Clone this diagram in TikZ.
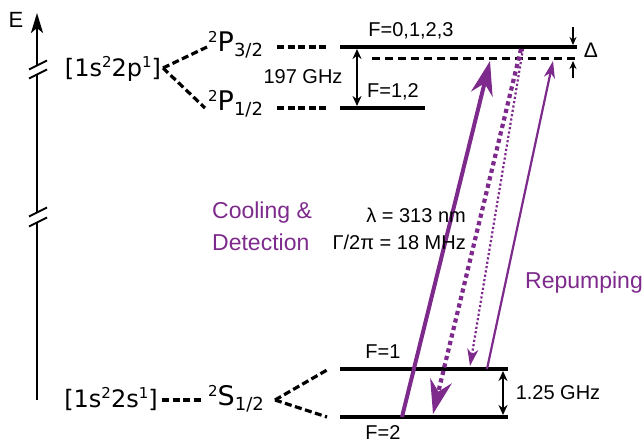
\documentclass[tikz,border=0pt]{standalone}
\usepackage{fontspec}
\setmainfont{Liberation Sans}
\newfontfamily\dvs{DejaVu Sans}
\usetikzlibrary{arrows.meta}
\definecolor{purp}{RGB}{125,42,140}
\newcommand{\fs}[1]{\fontsize{#1}{#1}\selectfont}
\newcommand{\termsym}[3]{{\dvs\fs{15}\raisebox{9pt}{#1}}{\dvs\fs{27}#2}{\dvs\fs{18}\raisebox{-5pt}{#3}}}
\newcommand{\confsym}[2]{{\dvs\fs{24}[1s\raisebox{9pt}{\fs{15}2}2#1\raisebox{9pt}{\fs{15}1}]}}
\begin{document}
\begin{tikzpicture}[x=1pt,y=-1pt,
  lvl/.style={line width=3.8pt},
  dlvl/.style={line width=3pt, dash pattern=on 8pt off 5pt},
  conn/.style={line width=3.2pt, dash pattern=on 7pt off 3.5pt},
  lab/.style={inner sep=0pt, font=\fs{20}},
  plab/.style={inner sep=0pt, font=\fs{23}, text=purp},
  gap/.style={line width=2.2pt, {Stealth[length=10pt,width=9pt]}-{Stealth[length=10pt,width=9pt]}},
  small/.style={line width=1.8pt, -{Stealth[length=8pt,width=7pt]}},
  bigtip/.style={-{Stealth[length=34pt,width=22pt,inset=11pt]}},
  thintip/.style={-{Stealth[length=17pt,width=11pt,inset=5pt]}}]
\useasboundingbox (0,0) rectangle (644,443);

% energy axis
\node[inner sep=0pt] (E) at (16,20) {\fs{22}E};
\coordinate (a0) at (37,400);
\coordinate (a1) at (37,222);
\coordinate (a2) at (37,212);
\coordinate (a3) at (37,74);
\coordinate (a4) at (37,65);
\coordinate (a5) at (37,13);
\draw[line width=2.6pt] (a0) -- (a1);
\draw[line width=2.6pt] (a2) -- (a3);
\draw[line width=2.6pt, -{Stealth[length=20pt,width=12pt,inset=5pt]}] (a4) -- (a5);
\foreach \y in {65,74,212,222}{
  \draw[line width=1.8pt] (29,\y+4.5) -- (47,\y-4.5);
}

% configurations and terms
\node[inner sep=1pt] (pconf) at (113,69) {\confsym{p}{}};
\node[inner sep=1pt] (sconf) at (111,399) {\confsym{s}{}};
\node[inner sep=1pt, anchor=west] (P32) at (207,45) {\termsym{2}{P}{3/2}};
\node[inner sep=1pt, anchor=west] (P12) at (207,104) {\termsym{2}{P}{1/2}};
\node[inner sep=1pt, anchor=west] (S12) at (207,399) {\termsym{2}{S}{1/2}};

\coordinate (pc) at (163,68);
\coordinate (p3in) at (207,47);
\coordinate (p1in) at (205,108);
\draw[conn] (pc) -- (p3in);
\draw[conn] (pc) -- (p1in);
\coordinate (sc) at (162,400);
\coordinate (sin) at (204,400);
\draw[conn] (sc) -- (sin);
\coordinate (sout) at (275,400);
\coordinate (f1in) at (327,370);
\coordinate (f2in) at (327,417);
\draw[conn] (sout) -- (f1in);
\draw[conn] (sout) -- (f2in);
\coordinate (p3out) at (277,47);
\coordinate (p3end) at (328,47);
\coordinate (p1out) at (277,108);
\coordinate (p1end) at (328,108);
\draw[conn] (p3out) -- (p3end);
\draw[conn] (p1out) -- (p1end);

% levels
\coordinate (P3L) at (340,47); \coordinate (P3R) at (577,47);
\coordinate (DL) at (372,59); \coordinate (DR) at (578,59);
\coordinate (P1L) at (340,108); \coordinate (P1R) at (425,108);
\coordinate (F1L) at (340,369); \coordinate (F1R) at (508,369);
\coordinate (F2L) at (340,417); \coordinate (F2R) at (508,417);
\draw[lvl] (P3L) -- (P3R);
\draw[dlvl] (DL) -- (DR);
\draw[lvl] (P1L) -- (P1R);
\draw[lvl] (F1L) -- (F1R);
\draw[lvl] (F2L) -- (F2R);

\node[lab] (tF0) at (411,31) {F=0,1,2,3};
\node[lab] (tF12) at (393,92) {F=1,2};
\node[lab] (tF1) at (383,352) {F=1};
\node[lab] (tF2) at (383,433) {F=2};

% splittings
\coordinate (g1t) at (357,49); \coordinate (g1b) at (357,106);
\draw[gap] (g1t) -- (g1b);
\node[lab] (t197) at (303,77) {197 GHz};
\coordinate (g2t) at (503,371); \coordinate (g2b) at (503,415);
\draw[gap] (g2t) -- (g2b);
\node[lab] (t125) at (558,393) {1.25 GHz};
\coordinate (d1a) at (573,27); \coordinate (d1b) at (573,45);
\coordinate (d2a) at (573,78); \coordinate (d2b) at (573,61);
\draw[small] (d1a) -- (d1b);
\draw[small] (d2a) -- (d2b);
\node[lab] (tD) at (591,50) {\fs{21}Δ};

% transitions
\coordinate (c0) at (402,417); \coordinate (c1) at (490,61);
\coordinate (r0) at (487,369); \coordinate (r1) at (553,61);
\coordinate (e0) at (521,49); \coordinate (e1) at (433,414);
\coordinate (s0) at (523,49); \coordinate (s1) at (470,366);
\draw[purp, line width=4pt, bigtip] (c0) -- (c1);
\draw[purp, line width=2.2pt, thintip] (r0) -- (r1);
\draw[purp, line width=4.2pt, dash pattern=on 4.2pt off 3.5pt, bigtip] (e0) -- (e1);
\draw[purp, line width=2.2pt, dash pattern=on 2.2pt off 2.2pt, thintip] (s0) -- (s1);

\node[plab, anchor=west] (tcool) at (212,213) {Cooling \&};
\node[plab, anchor=west] (tdet) at (212,242) {Detection};
\node[lab, anchor=east] (tlam) at (466,215) {λ = 313 nm};
\node[lab, anchor=east] (tgam) at (466,242) {Γ/2π = 18 MHz};
\node[plab] (trep) at (584,283) {Repumping};
\end{tikzpicture}
\end{document}
